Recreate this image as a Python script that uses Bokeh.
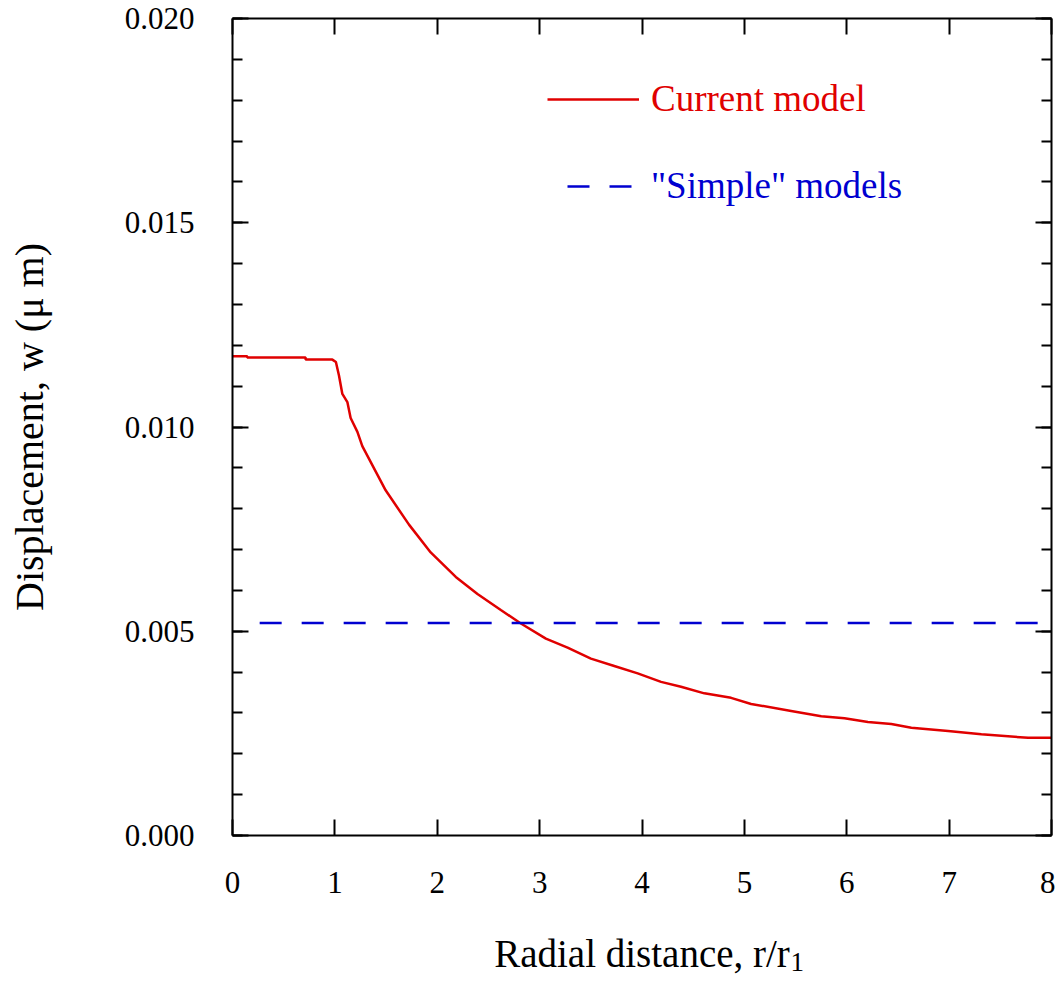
from bokeh.plotting import figure
from bokeh.models import (Range1d, LinearAxis, SingleIntervalTicker, NumeralTickFormatter,
                          Legend, LegendItem, Title)
from bokeh.embed import file_html
from bokeh.resources import INLINE

# ---- data ----
radial = [0.0, 0.144, 0.144, 0.714, 0.714, 0.975, 1.01, 1.040, 1.073, 1.122, 1.154,
          1.220, 1.268, 1.496, 1.724, 1.936, 2.181, 2.393, 2.621, 2.817, 3.061, 3.273,
          3.501, 3.729, 3.958, 4.186, 4.381, 4.609, 4.870, 5.066, 5.457, 5.751, 5.978,
          6.207, 6.435, 6.631, 6.990, 7.315, 7.772, 8.0]
current_model = [0.01173, 0.01173, 0.01170, 0.01170, 0.01165, 0.01165, 0.01159, 0.01126,
                 0.01081, 0.01061, 0.01022, 0.00988, 0.00953, 0.00845, 0.00761, 0.00693,
                 0.00633, 0.00591, 0.00552, 0.00519, 0.00482, 0.00460, 0.00433, 0.00415,
                 0.00397, 0.00376, 0.00364, 0.00348, 0.00337, 0.00322, 0.00305, 0.00292,
                 0.00287, 0.00278, 0.00273, 0.00264, 0.00256, 0.00248, 0.00239, 0.00239]
simple_x = [0.07, 8.0]
simple_model = [0.0052, 0.0052]

x_label = "Radial distance, r/r"
x_label_sub = "1"
y_label = "Displacement, w (\u03bc m)"
series_names = ["Current model", "\"Simple\" models"]

FONT = "Liberation Serif"
RED = "#e00000"
BLUE = "#0000d0"

p = figure(width=1055, height=977, output_backend="svg", toolbar_location=None,
           x_range=Range1d(0, 8), y_range=Range1d(0, 0.02),
           min_border_left=232, min_border_right=4, min_border_top=18,
           min_border_bottom=141, x_axis_location=None, y_axis_location=None)
p.grid.visible = False
p.outline_line_color = None
p.background_fill_color = "white"
p.border_fill_color = "white"


def make_axis(dim, show_labels):
    if dim == "x":
        ax = LinearAxis(ticker=SingleIntervalTicker(interval=1, num_minor_ticks=0),
                        formatter=NumeralTickFormatter(format="0"))
        ax.minor_tick_line_color = None
    else:
        ax = LinearAxis(ticker=SingleIntervalTicker(interval=0.005, num_minor_ticks=5),
                        formatter=NumeralTickFormatter(format="0.000"))
        ax.minor_tick_in = 10
        ax.minor_tick_out = 0
        ax.minor_tick_line_width = 2
        ax.minor_tick_line_color = "black"
    ax.axis_line_width = 2
    ax.axis_line_color = "black"
    ax.major_tick_in = 16
    ax.major_tick_out = 0
    ax.major_tick_line_width = 2
    ax.major_tick_line_color = "black"
    if show_labels:
        ax.major_label_text_font = FONT
        ax.major_label_text_font_size = "31px"
        ax.major_label_text_color = "black"
        ax.major_label_standoff = 38 if dim == "y" else 36
    else:
        ax.major_label_text_color = None
        ax.major_label_standoff = 0
    return ax


def style_label(ax, text, size, standoff):
    ax.axis_label = text
    ax.axis_label_text_font = FONT
    ax.axis_label_text_font_size = size
    ax.axis_label_text_font_style = "normal"
    ax.axis_label_text_color = "black"
    ax.axis_label_standoff = standoff


x_axis = make_axis("x", True)
y_axis = make_axis("y", True)
style_label(y_axis, y_label, "40px", 70)
style_label(x_axis, x_label, "39px", 36)

p.add_layout(x_axis, "below")
p.add_layout(y_axis, "left")
p.add_layout(make_axis("x", False), "above")
p.add_layout(make_axis("y", False), "right")

p.add_layout(Title(text=x_label_sub, align="left", offset=558, standoff=-50,
                   vertical_align="top", text_font=FONT, text_font_size="27px",
                   text_font_style="normal", text_color="black"), "below")

r_cur = p.line(radial, current_model, line_color=RED, line_width=2.5)
r_sim = p.line(simple_x, simple_model, line_color=BLUE, line_width=2.5,
               line_dash="22 20", line_dash_offset=22)

leg1 = Legend(items=[LegendItem(label=series_names[0], renderers=[r_cur])],
              location=(315, 715), padding=0, margin=0, glyph_width=92, glyph_height=40,
              label_height=40, label_standoff=12, border_line_color=None,
              background_fill_alpha=0, label_text_font=FONT, label_text_font_size="37px",
              label_text_color=RED)
leg2 = Legend(items=[LegendItem(label=series_names[1], renderers=[r_sim])],
              location=(315, 628), padding=0, margin=0, glyph_width=92, glyph_height=40,
              label_height=40, label_standoff=12, border_line_color=None,
              background_fill_alpha=0, label_text_font=FONT, label_text_font_size="37px",
              label_text_color=BLUE)
p.add_layout(leg1)
p.add_layout(leg2)

open("out.html", "w").write(file_html(p, INLINE))
